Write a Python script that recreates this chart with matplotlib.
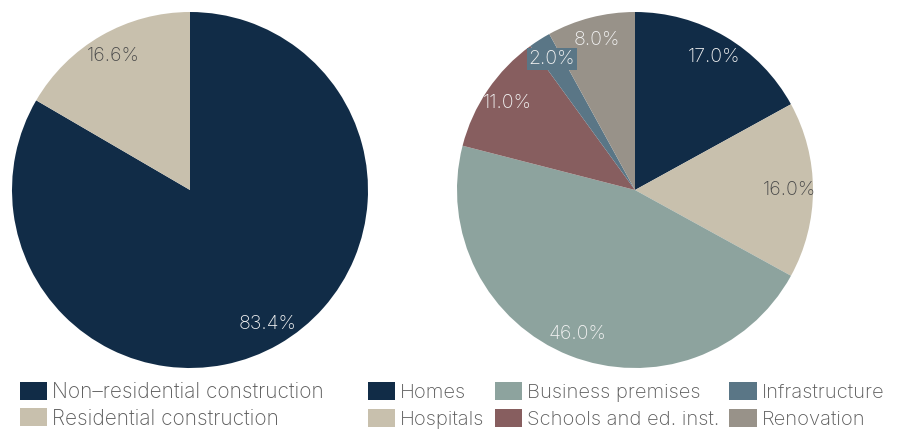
import matplotlib.pyplot as plt
from matplotlib.patches import Patch

# Andel av byggande, fördelat på sektor
sektor_namn = ['Non\u2013residential construction', 'Residential construction']
sektor_andel = [83.4, 16.6]
sektor_farg = ['#112c47', '#c8c0ad']

# Fördelning inom icke-bostadsbyggande
typ_namn = ['Homes', 'Hospitals', 'Business premises', 'Schools and ed. inst.',
            'Infrastructure', 'Renovation']
typ_andel = [17.0, 16.0, 46.0, 11.0, 2.0, 8.0]
typ_farg = ['#112c47', '#c8c0ad', '#8da39e', '#875e5f', '#5a7686', '#989289']

ljus = '#f2f2f2'
mork = '#4a4a4a'

plt.rcParams['font.family'] = ['Inter', 'DejaVu Sans']
plt.rcParams['font.weight'] = 'light'

fig = plt.figure(figsize=(9.08, 4.33), dpi=100)
ax1 = fig.add_axes([12 / 908, 1 - 368 / 433, 356 / 908, 356 / 433])
ax2 = fig.add_axes([457 / 908, 1 - 368 / 433, 356 / 908, 356 / 433])

w1, _, t1 = ax1.pie(sektor_andel, colors=sektor_farg, startangle=90, counterclock=False,
                    autopct='%.1f%%', pctdistance=0.87,
                    wedgeprops=dict(linewidth=0), textprops=dict(fontsize=14))
t1[0].set_color(ljus)
t1[1].set_color(mork)

w2, _, t2 = ax2.pie(typ_andel, colors=typ_farg, startangle=90, counterclock=False,
                    autopct='%.1f%%', pctdistance=0.87,
                    wedgeprops=dict(linewidth=0), textprops=dict(fontsize=14))
for t, c in zip(t2, [ljus, mork, ljus, ljus, ljus, ljus]):
    t.set_color(c)
# liten sektor - etiketten får en egen bakgrund
t2[4].set_bbox(dict(facecolor=typ_farg[4], edgecolor='none', pad=1.5))

for ax in (ax1, ax2):
    ax.set_xlim(-1, 1)
    ax.set_ylim(-1, 1)
    ax.set_aspect('equal')

h1 = [Patch(facecolor=c, edgecolor='none') for c in sektor_farg]
fig.legend(h1, sektor_namn, loc='upper left', bbox_to_anchor=(20 / 908, 1 - 382 / 433),
           frameon=False, fontsize=15, labelcolor='#5a5a5a', handlelength=1.3,
           handleheight=0.95, handletextpad=0.25, labelspacing=0.3, borderaxespad=0,
           borderpad=0)

h2 = [Patch(facecolor=c, edgecolor='none') for c in typ_farg]
fig.legend(h2, typ_namn, loc='upper left', bbox_to_anchor=(368 / 908, 1 - 382 / 433),
           ncol=3, frameon=False, fontsize=14.5, labelcolor='#5a5a5a', handlelength=1.35,
           handleheight=1.0, handletextpad=0.25, labelspacing=0.35, columnspacing=0.5,
           borderaxespad=0, borderpad=0)

fig.savefig('out.png', dpi=100)
